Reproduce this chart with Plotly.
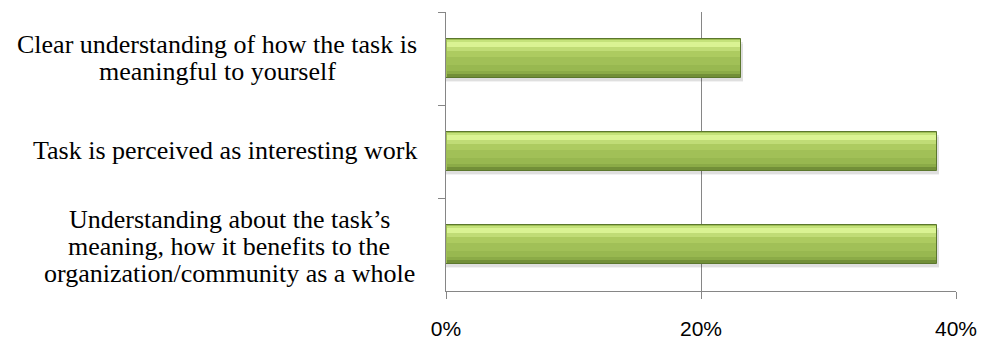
import plotly.graph_objects as go

categories = [
    "Clear understanding of how the task is meaningful to yourself",
    "Task is perceived as interesting work",
    "Understanding about the task’s meaning, how it benefits to the organization/community as a whole",
]
label_lines = [
    ["Clear understanding of how the task is", "meaningful to yourself"],
    ["Task is perceived as interesting work"],
    ["Understanding about the task’s", "meaning, how it benefits to the", "organization/community as a whole"],
]
values = [0.231, 0.385, 0.385]
x_ticks = [0, 0.2, 0.4]
x_tick_labels = ["0%", "20%", "40%"]

BW = 0.41
PX = BW / 39.0
fig = go.Figure()

# soft shadow below bars
for sh, col in [(5, "rgba(0,0,0,0.05)"), (3, "rgba(0,0,0,0.08)")]:
    fig.add_trace(go.Bar(y=categories, x=[v + 0.002 for v in values], orientation="h",
                         width=BW, offset=-BW / 2 + sh * PX,
                         marker=dict(color=col, line=dict(width=0)),
                         hoverinfo="skip", showlegend=False))
# base bar
fig.add_trace(go.Bar(y=categories, x=values, orientation="h", width=BW, offset=-BW / 2,
                     marker=dict(color="#9FBE55", line=dict(color="#5B772D", width=1)),
                     showlegend=False))
# gradient bands, in pixels from the top of the bar
bands = [
    (1, 3, "#C4E27A"),
    (3, 8, "#DAF393"),
    (8, 12, "#C0DC76"),
    (12, 18, "#ADCB60"),
    (18, 26, "#A1C057"),
    (26, 32, "#98B850"),
    (32, 35, "#8BAB47"),
    (35, 38.3, "#728F38"),
]
for top, bot, col in bands:
    fig.add_trace(go.Bar(y=categories, x=[v - 0.0012 for v in values], base=[0.0006] * 3,
                         orientation="h", width=(bot - top) * PX,
                         offset=-BW / 2 + top * PX,
                         marker=dict(color=col, line=dict(width=0)),
                         hoverinfo="skip", showlegend=False))

label_cx = [217, 225, 229]
label_dy = [1, 1, -2]
LS = 27
for cat, lines, cx, dy in zip(categories, label_lines, label_cx, label_dy):
    n = len(lines)
    for i, ln in enumerate(lines):
        fig.add_annotation(x=0, xref="paper", y=cat, yref="y", text=ln, showarrow=False,
                           xanchor="center", yanchor="middle", xshift=cx - 446,
                           yshift=-(i - (n - 1) / 2) * LS + dy,
                           font=dict(family="Liberation Serif", size=26, color="#000000"))

fig.update_layout(
    width=989, height=352,
    margin=dict(l=446, r=32, t=12, b=52),
    paper_bgcolor="white", plot_bgcolor="white",
    barmode="overlay", bargap=0,
    xaxis=dict(range=[0, 0.4], tickvals=x_ticks, ticktext=x_tick_labels,
               showgrid=True, gridcolor="#868686", gridwidth=1,
               showline=True, linecolor="#868686", linewidth=1,
               ticks="outside", ticklen=7, tickcolor="#868686",
               ticklabelstandoff=12,
               tickfont=dict(family="Liberation Sans", size=21, color="#000000"),
               zeroline=False, fixedrange=True),
    yaxis=dict(type="category", categoryorder="array", categoryarray=categories,
               range=[2.5, -0.5], autorange=False, showticklabels=False,
               showline=True, linecolor="#868686", linewidth=1,
               ticks="outside", ticklen=7, tickcolor="#868686", tickson="boundaries",
               showgrid=False, zeroline=False, fixedrange=True),
)

fig.write_html("out.html")
